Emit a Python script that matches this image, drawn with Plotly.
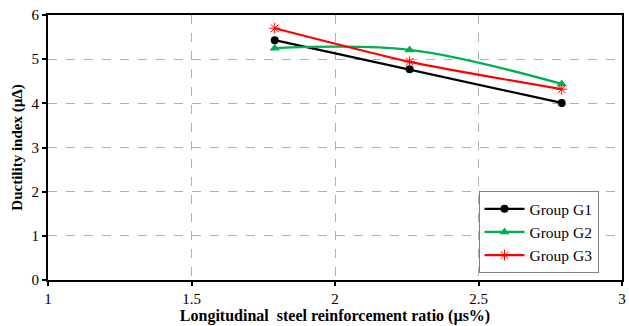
import plotly.graph_objects as go

ratio = [1.79, 2.26, 2.79]
g1 = [5.43, 4.77, 4.01]
g2 = [5.25, 5.21, 4.44]
g3 = [5.70, 4.94, 4.32]
names = ["Group G1", "Group G2", "Group G3"]

fig = go.Figure()
fig.add_trace(go.Scatter(x=ratio, y=g1, name=names[0], mode="lines+markers",
                         line=dict(color="black", width=2.2),
                         marker=dict(symbol="circle", size=8, color="black")))
fig.add_trace(go.Scatter(x=ratio, y=g2, name=names[1], mode="lines+markers",
                         line=dict(color="#00b050", width=2.2, shape="spline", smoothing=1),
                         marker=dict(symbol="triangle-up", size=9, color="#00b050")))
fig.add_trace(go.Scatter(x=ratio, y=g3, name=names[2], mode="lines+markers",
                         line=dict(color="#ff0000", width=2.2, shape="spline", smoothing=0.6),
                         marker=dict(symbol="asterisk-open", size=9, color="#ff0000",
                                     line=dict(color="#ff0000", width=1))))

font_family = "Liberation Serif, Times New Roman, serif"
fig.update_layout(
    width=629, height=326,
    margin=dict(l=48, r=3, t=15, b=46),
    paper_bgcolor="white", plot_bgcolor="white",
    font=dict(family=font_family, size=15, color="black"),
    legend=dict(x=0.75, y=0.335, xanchor="left", yanchor="top",
                bordercolor="#808080", borderwidth=1, bgcolor="white",
                font=dict(size=15.5, family=font_family), tracegroupgap=0,
                itemwidth=40),
    showlegend=True,
)
fig.update_xaxes(range=[1, 3], tickvals=[1, 1.5, 2, 2.5, 3],
                 ticktext=["1", "1.5", "2", "2.5", "3"],
                 showgrid=True, gridcolor="#b0b0b0", griddash="dash", gridwidth=1,
                 showline=True, linecolor="black", linewidth=2, mirror=True,
                 ticks="outside", ticklen=4, tickwidth=2, tickcolor="black",
                 zeroline=False,
                 title=dict(text="<b>Longitudinal  steel reinforcement ratio (µs%)</b>",
                            font=dict(size=16), standoff=3))
fig.update_yaxes(range=[0, 6], dtick=1,
                 showgrid=True, gridcolor="#b0b0b0", griddash="dash", gridwidth=1,
                 showline=True, linecolor="black", linewidth=2, mirror=True,
                 ticks="outside", ticklen=4, tickwidth=2, tickcolor="black",
                 zeroline=False,
                 title=dict(text="<b>Ductility index (µΔ)</b>", font=dict(size=15), standoff=5))

fig.write_html("out.html")
